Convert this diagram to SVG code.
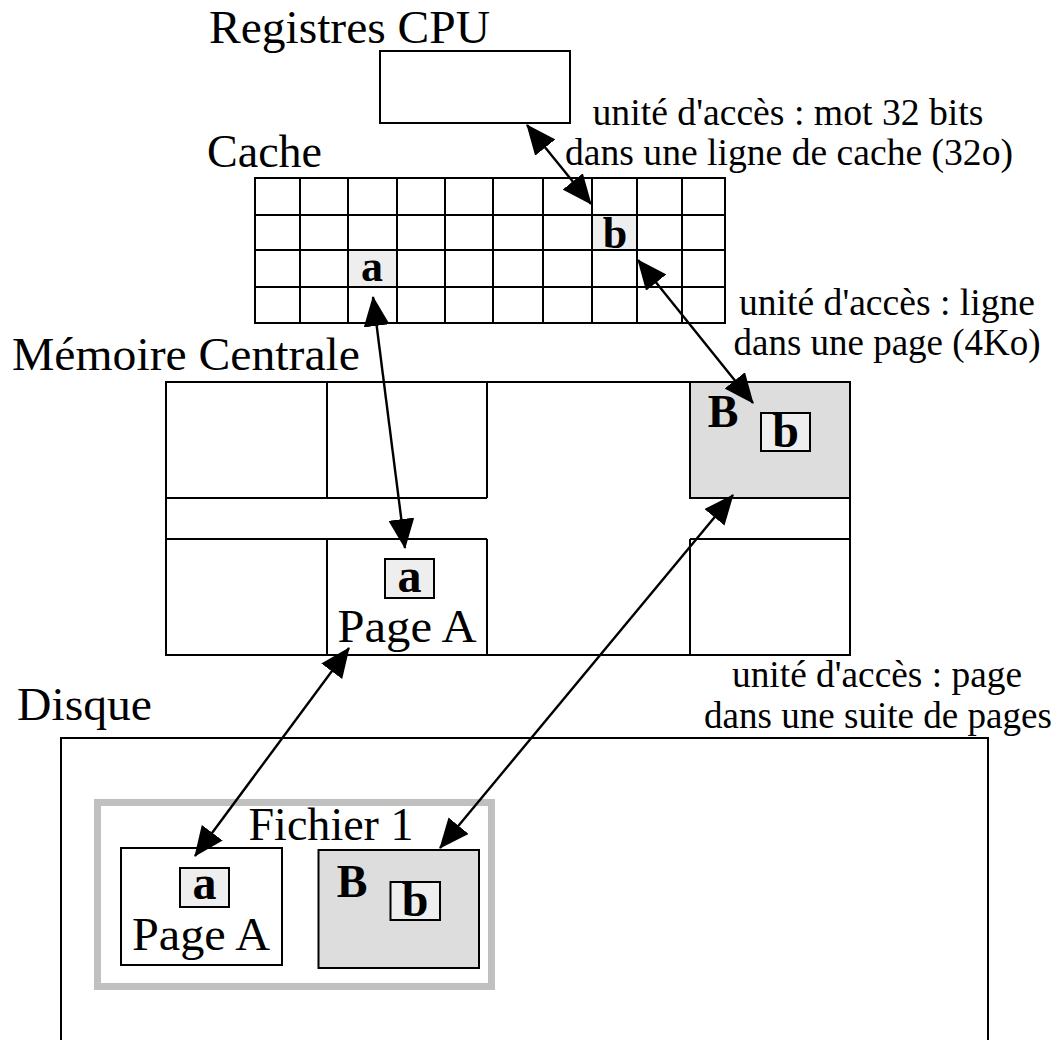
<svg xmlns="http://www.w3.org/2000/svg" width="1060" height="1040" viewBox="0 0 1060 1040">
<style>
.box{fill:#fff;stroke:#000;stroke-width:2}
.ln{stroke:#000;stroke-width:2;fill:none}
text{font-family:'Liberation Serif','DejaVu Serif Condensed','DejaVu Serif',serif;font-stretch:condensed}
.lbl{font-size:47px;fill:#000}
.sm{font-size:37px;fill:#000;text-anchor:middle}
.bl{font-weight:bold;fill:#000;text-anchor:middle}
.hl{fill:#eeeeee}
.pg{fill:#dddddd;stroke:#000;stroke-width:2}
.cell{fill:#eeeeee;stroke:#000;stroke-width:2}
.conn{stroke:#000;stroke-width:2.4;fill:none;marker-start:url(#ah);marker-end:url(#ah)}
</style>
<defs>
<marker id="ah" markerUnits="userSpaceOnUse" markerWidth="30" markerHeight="26" viewBox="0 0 30 26" refX="29" refY="13" orient="auto-start-reverse">
<path d="M0,0 L30,13 L0,26 Z" fill="#000"/>
</marker>
</defs>
<rect width="1060" height="1040" fill="#fff"/>

<g id="cpu">
<text class="lbl" x="209" y="43" textLength="281" lengthAdjust="spacingAndGlyphs">Registres CPU</text>
<rect class="box" x="380" y="51" width="190" height="72"/>
</g>

<g id="cache">
<text class="lbl" x="207" y="167" textLength="115" lengthAdjust="spacingAndGlyphs">Cache</text>
<rect class="box" x="255" y="178" width="470" height="145"/>
<rect class="hl" x="592" y="215" width="45" height="35"/>
<rect class="hl" x="348" y="250" width="49" height="37"/>
<path class="ln" d="M300,178V323 M348,178V323 M397,178V323 M445,178V323 M493,178V323 M543,178V323 M592,178V323 M637,178V323 M682,178V323 M255,215H725 M255,250H725 M255,287H725"/>
<text class="bl" x="615" y="248" font-size="44">b</text>
<text class="bl" x="372" y="281" font-size="44">a</text>
</g>

<g id="memoire">
<text class="lbl" x="12" y="370" textLength="348" lengthAdjust="spacingAndGlyphs">Mémoire Centrale</text>
<rect class="box" x="166" y="382" width="684" height="273"/>
<rect class="pg" x="690" y="382" width="160" height="116"/>
<path class="ln" d="M166,498H487 M166,539H487 M690,539H850 M327,382V498 M487,382V498 M327,539V655 M487,539V655 M690,539V655"/>
<text class="bl" x="723" y="427" font-size="46">B</text>
<rect class="cell" x="761" y="413" width="49" height="38"/>
<text class="bl" x="785.5" y="447" font-size="48">b</text>
<rect class="cell" x="385" y="559" width="49" height="39"/>
<text class="bl" x="409.5" y="592" font-size="48">a</text>
<text class="lbl" x="407" y="642" text-anchor="middle" textLength="139" lengthAdjust="spacingAndGlyphs">Page A</text>
</g>

<g id="disque">
<text class="lbl" x="17" y="720" textLength="135" lengthAdjust="spacingAndGlyphs">Disque</text>
<rect class="box" x="61" y="738" width="927" height="400"/>
</g>

<g id="fichier1">
<rect x="97.5" y="802.5" width="394" height="184" fill="none" stroke="#c0c0c0" stroke-width="7"/>
<text class="lbl" x="248.5" y="840" textLength="165" lengthAdjust="spacingAndGlyphs">Fichier 1</text>
<rect class="box" x="121" y="848" width="161" height="117"/>
<rect class="cell" x="180" y="868" width="49" height="39"/>
<text class="bl" x="204.5" y="899" font-size="48">a</text>
<text class="lbl" x="201" y="950" text-anchor="middle" textLength="138" lengthAdjust="spacingAndGlyphs">Page A</text>
<rect class="pg" x="318.5" y="850" width="160.5" height="118"/>
<text class="bl" x="352" y="897" font-size="46">B</text>
<rect class="cell" x="390.5" y="882" width="49.5" height="38"/>
<text class="bl" x="415" y="916" font-size="48">b</text>
</g>

<g id="labels">
<text class="sm" x="788" y="125" textLength="391" lengthAdjust="spacingAndGlyphs">unité d'accès : mot 32 bits</text>
<text class="sm" x="789" y="165" textLength="448" lengthAdjust="spacingAndGlyphs">dans une ligne de cache (32o)</text>
<text class="sm" x="887" y="315" textLength="296" lengthAdjust="spacingAndGlyphs">unité d'accès : ligne</text>
<text class="sm" x="887" y="355" textLength="307" lengthAdjust="spacingAndGlyphs">dans une page (4Ko)</text>
<text class="sm" x="877" y="687" textLength="290" lengthAdjust="spacingAndGlyphs">unité d'accès : page</text>
<text class="sm" x="878" y="728" textLength="348" lengthAdjust="spacingAndGlyphs">dans une suite de pages</text>
</g>

<g id="connectors">
<line class="conn" x1="527" y1="125" x2="591" y2="204"/>
<line class="conn" x1="638" y1="260" x2="753" y2="403"/>
<line class="conn" x1="373" y1="297" x2="405" y2="548"/>
<line class="conn" x1="349" y1="648" x2="195" y2="856"/>
<line class="conn" x1="733" y1="495" x2="440" y2="848"/>
</g>
</svg>
